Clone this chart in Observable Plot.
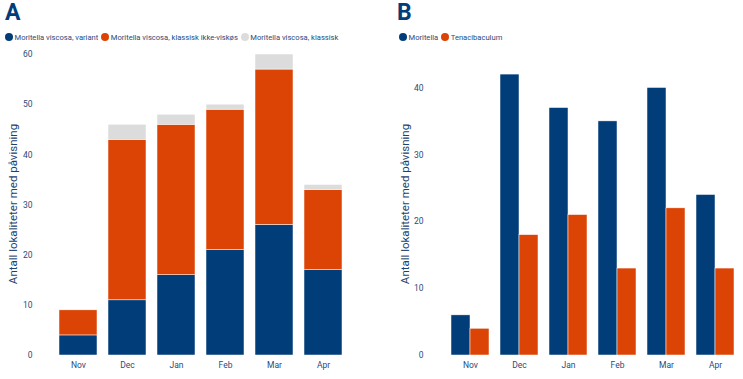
<!DOCTYPE html>
<html>
<head>
<meta charset="utf-8">
<script src="https://cdn.jsdelivr.net/npm/d3@7"></script>
<script src="https://cdn.jsdelivr.net/npm/@observablehq/plot@0.6"></script>
<style>
  body { margin: 0; background: #fff; font-family: Roboto, "Noto Sans", sans-serif; }
  #wrap { position: relative; width: 743px; height: 379px; overflow: hidden; }
  .title { position: absolute; font-weight: 700; font-size: 23px; color: #003d79; line-height: 1; }
  .legend { position: absolute; font-size: 7.6px; color: #2b4a7a; display: flex; align-items: center; white-space: nowrap; height: 10px; }
  .legend .sw { display: inline-block; width: 8px; height: 8px; border-radius: 50%; margin-right: 1.5px; }
  .legend .item { display: inline-flex; align-items: center; margin-right: 3px; }
  .ylab { position: absolute; font-size: 11.5px; color: #1f3f6e; transform: rotate(-90deg); transform-origin: center center; white-space: nowrap; }
  .panel { position: absolute; }
</style>
</head>
<body>
<div id="wrap">
  <div class="title" style="left:5px; top:1px;">A</div>
  <div class="title" style="left:397px; top:1px;">B</div>
  <div class="legend" id="legA" style="left:5px; top:32px;"></div>
  <div class="legend" id="legB" style="left:399px; top:32px;"></div>
  <div class="ylab" style="left:-87px; top:197px; width:200px; text-align:center;">Antall lokaliteter med påvisning</div>
  <div class="ylab" style="left:305px; top:197px; width:200px; text-align:center;">Antall lokaliteter med påvisning</div>
  <div class="panel" id="pA" style="left:0px; top:45px;"></div>
  <div class="panel" id="pB" style="left:380px; top:45px;"></div>
</div>
<script>
const months = ["Nov", "Dec", "Jan", "Feb", "Mar", "Apr"];
// Panel A series
const seriesA = ["Moritella viscosa, variant", "Moritella viscosa, klassisk ikke-viskøs", "Moritella viscosa, klassisk"];
const variant = [4, 11, 16, 21, 26, 17];
const ikkeViskos = [5, 32, 30, 28, 31, 16];
const klassisk = [0, 3, 2, 1, 3, 1];
const ticksA = [0, 10, 20, 30, 40, 50, 60];
// Panel B series
const seriesB = ["Moritella", "Tenacibaculum"];
const moritella = [6, 42, 37, 35, 40, 24];
const tenacibaculum = [4, 18, 21, 13, 22, 13];
const ticksB = [0, 10, 20, 30, 40];

const colorsA = ["#003d79", "#dc4405", "#dcdcdc"];
const colorsB = ["#003d79", "#dc4405"];
const textColor = "#2b4a7a";

const dataA = [];
[variant, ikkeViskos, klassisk].forEach((arr, i) => {
  arr.forEach((v, j) => dataA.push({month: months[j], series: seriesA[i], value: v}));
});
const dataB = [];
[moritella, tenacibaculum].forEach((arr, i) => {
  arr.forEach((v, j) => dataB.push({month: months[j], series: seriesB[i], value: v}));
});

function legend(el, names, colors) {
  const node = document.getElementById(el);
  names.forEach((n, i) => {
    const it = document.createElement("span");
    it.className = "item";
    it.innerHTML = `<span class="sw" style="background:${colors[i]}"></span>${n}`;
    node.appendChild(it);
  });
}
legend("legA", seriesA, colorsA);
legend("legB", seriesB, colorsB);

const common = {
  style: {fontFamily: "Roboto, 'Noto Sans', sans-serif", fontSize: "8.5px", color: textColor, background: "transparent"}
};

const plotA = Plot.plot({
  ...common,
  width: 360,
  height: 334,
  marginTop: 9,
  marginBottom: 24,
  marginLeft: 59,
  marginRight: 17,
  x: {domain: months, paddingInner: 0.22, paddingOuter: 0.0, label: null, tickSize: 0, tickPadding: 6},
  y: {domain: [0, 60], ticks: ticksA, label: null, tickSize: 0, tickPadding: 27},
  color: {domain: seriesA, range: colorsA},
  marks: [
    Plot.barY(dataA, Plot.stackY({x: "month", y: "value", fill: "series", order: seriesA, stroke: "white", strokeWidth: 0.5}))
  ]
});
document.getElementById("pA").appendChild(plotA);

const plotB = Plot.plot({
  ...common,
  width: 363,
  height: 334,
  marginTop: 9,
  marginBottom: 24,
  marginLeft: 71,
  marginRight: 8,
  fx: {domain: months, paddingInner: 0.22, paddingOuter: 0.0, label: null, tickSize: 0, tickPadding: 6, axis: "bottom"},
  x: {domain: seriesB, axis: null, padding: 0},
  y: {domain: [0, 45], ticks: ticksB, label: null, tickSize: 0, tickPadding: 28},
  color: {domain: seriesB, range: colorsB},
  marks: [
    Plot.barY(dataB, {fx: "month", x: "series", y: "value", fill: "series", stroke: "white", strokeWidth: 0.5})
  ]
});
document.getElementById("pB").appendChild(plotB);
</script>
</body>
</html>
